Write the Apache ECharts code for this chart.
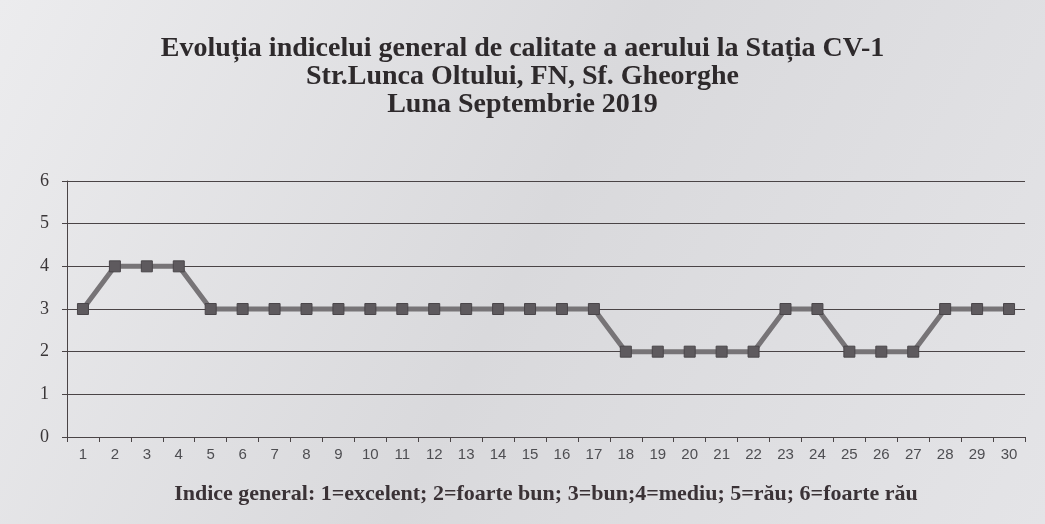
<!DOCTYPE html>
<html>
<head>
<meta charset="utf-8">
<script src="https://cdn.jsdelivr.net/npm/echarts@6/dist/echarts.min.js"></script>
<style>
  html, body { margin: 0; padding: 0; background: #e6e6e8; }
  #chart { width: 1045px; height: 524px; }
</style>
</head>
<body>
<div id="chart"></div>
<script>
// zilele lunii si indicele general
const days = ["1","2","3","4","5","6","7","8","9","10","11","12","13","14","15","16","17","18","19","20","21","22","23","24","25","26","27","28","29","30"];
const indexValues = [3,4,4,4,3,3,3,3,3,3,3,3,3,3,3,3,3,2,2,2,2,2,3,3,2,2,2,3,3,3];
const titleLines = [
  "Evoluția indicelui general de calitate a aerului la Stația CV-1",
  "Str.Lunca Oltului, FN, Sf. Gheorghe",
  "Luna Septembrie 2019"
];
const legendText = "Indice general: 1=excelent; 2=foarte bun; 3=bun;4=mediu; 5=rău; 6=foarte rău";

const chart = echarts.init(document.getElementById("chart"));

const option = {
  backgroundColor: new echarts.graphic.LinearGradient(0, 0, 1, 1, [
    { offset: 0, color: "#ececee" },
    { offset: 0.5, color: "#d9d9dc" },
    { offset: 1, color: "#e4e4e7" }
  ]),
  animation: false,
  title: {
    text: titleLines.join("\n"),
    left: "center",
    top: 30,
    textStyle: {
      fontFamily: "Liberation Serif",
      fontWeight: "bold",
      fontSize: 28,
      lineHeight: 28,
      color: "#2e2a2c"
    }
  },
  grid: {
    left: 67,
    right: 20,
    top: 181,
    bottom: 87
  },
  xAxis: {
    type: "category",
    data: days,
    boundaryGap: true,
    name: legendText,
    nameLocation: "middle",
    nameGap: 46,
    nameTextStyle: {
      fontFamily: "Liberation Serif",
      fontWeight: "bold",
      fontSize: 22,
      color: "#3a3236"
    },
    axisLine: { lineStyle: { color: "#4a4446", width: 1 } },
    axisTick: { show: true, length: 5, lineStyle: { color: "#4a4446" } },
    axisLabel: {
      fontFamily: "Liberation Sans",
      fontSize: 15,
      color: "#4e4e52",
      margin: 10,
      interval: 0
    },
    splitLine: { show: false }
  },
  yAxis: {
    type: "value",
    min: 0,
    max: 6,
    interval: 1,
    axisLine: { show: true, lineStyle: { color: "#4a4446", width: 1 } },
    axisTick: { show: true, length: 5, lineStyle: { color: "#4a4446" } },
    axisLabel: {
      fontFamily: "Liberation Serif",
      fontSize: 18,
      color: "#3a3638",
      margin: 18
    },
    splitLine: { show: true, lineStyle: { color: "#4a4446", width: 1 } }
  },
  series: [
    {
      name: "Indice general",
      type: "line",
      data: indexValues,
      symbol: "rect",
      symbolSize: 11,
      showAllSymbol: true,
      lineStyle: { color: "#777477", width: 5 },
      itemStyle: { color: "#5e5a5e", borderColor: "#4a464a", borderWidth: 1 }
    }
  ]
};

chart.setOption(option);
</script>
</body>
</html>
